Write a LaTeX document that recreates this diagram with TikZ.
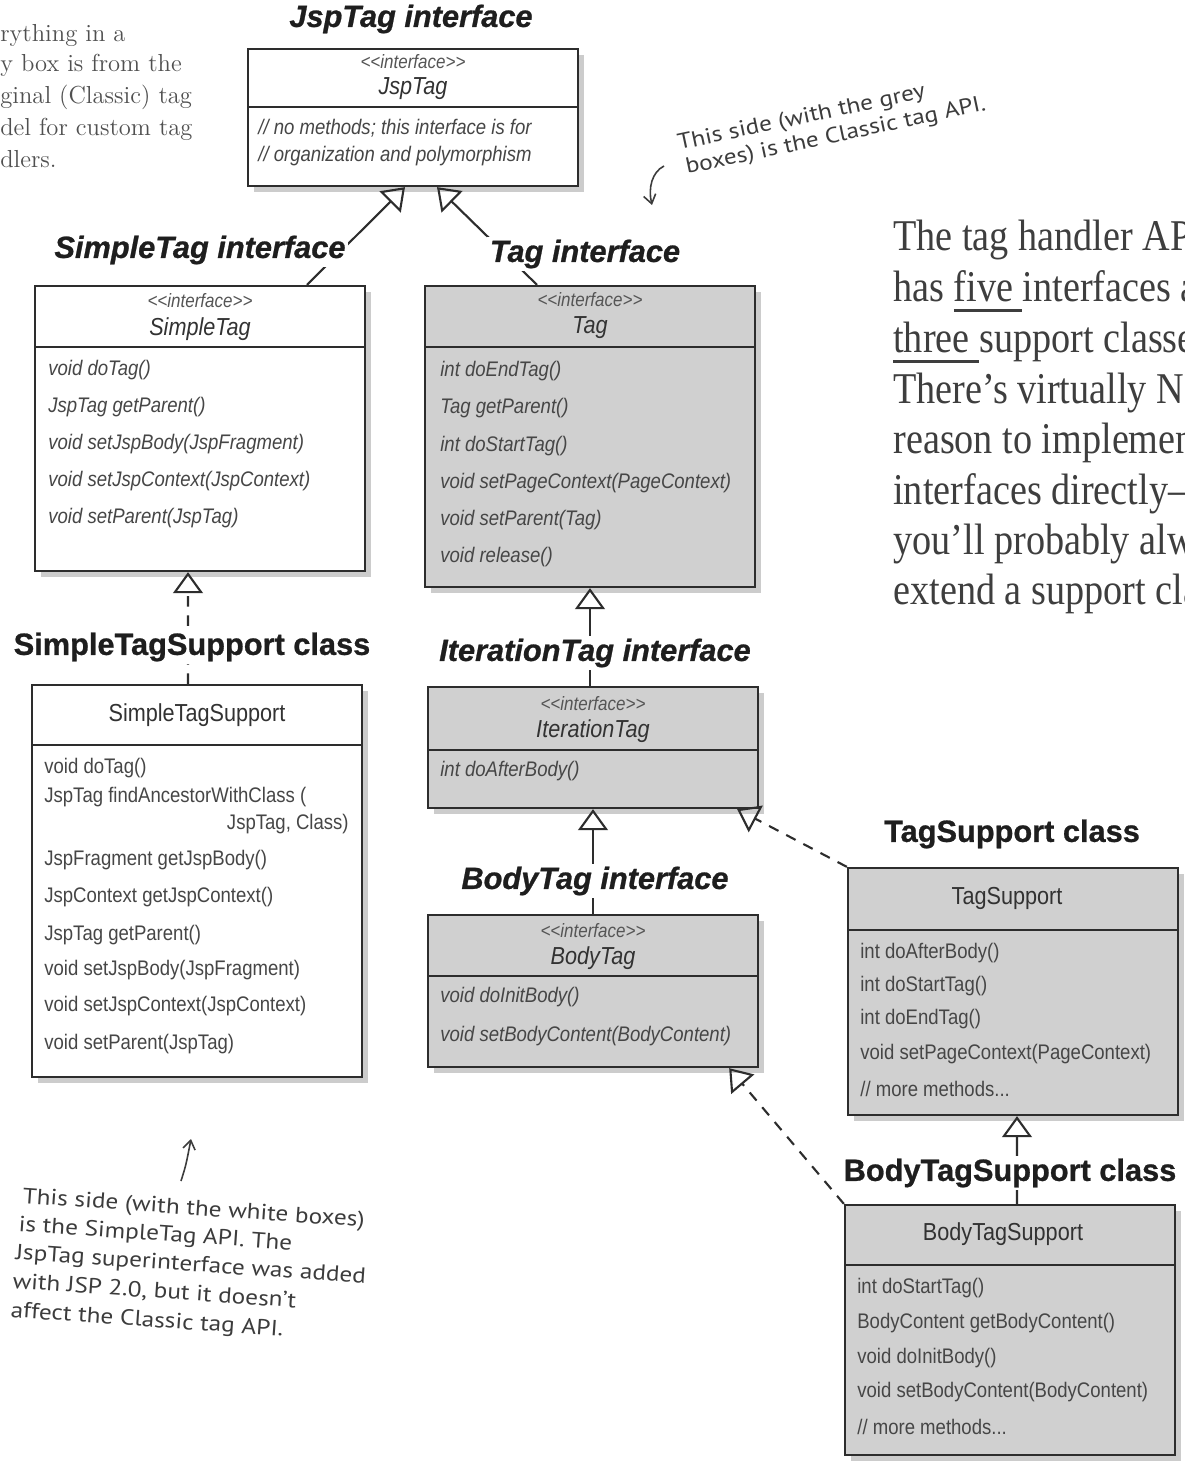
\documentclass[tikz,border=0pt]{standalone}
\usepackage{fontspec}
\newfontfamily\boxfont[FakeStretch=0.88]{Liberation Sans}
\newfontfamily\titlefont[BoldFeatures={FakeBold=0.8}, BoldItalicFeatures={FakeBold=0.8}]{Liberation Sans}
\newfontfamily\handfont[FakeStretch=1.15]{PT Sans}
\newfontfamily\notefont[FakeStretch=0.87]{Liberation Serif}
\usetikzlibrary{arrows.meta,shadows,fit}
\definecolor{boxgrey}{RGB}{208,208,208}
\definecolor{boxline}{RGB}{45,45,45}
\definecolor{boxtext}{RGB}{50,50,50}
\definecolor{methtext}{RGB}{70,70,70}
\definecolor{stereotext}{RGB}{85,85,85}
\definecolor{titletext}{RGB}{30,30,30}
\definecolor{notetext}{RGB}{80,80,80}
\definecolor{bigtext}{RGB}{62,62,62}
\definecolor{handtext}{RGB}{60,60,60}
\newcommand\umlbox[7]{%
  \node[#7, fit={(#2,#3) (#4,#5)}] (#1) {};
  \draw[divider] (#2,#6) -- (#4,#6);}
\newcommand\mline[5]{\node[#5] (#1) at (#2,#3) {#4};}
\newcommand\stereo{<\kern0pt<interface>\kern0pt>}
\newcommand\thickul[1]{\setbox0\hbox{#1}\rlap{\rule[-6pt]{\dimexpr\wd0+5pt\relax}{1.6pt}}\box0}
\tikzset{
  umlbase/.style={draw=boxline, line width=1.3pt, inner sep=0pt,
    drop shadow={shadow xshift=3.5pt, shadow yshift=-3.5pt, opacity=0.4}},
  greybox/.style={umlbase, fill=boxgrey},
  whitebox/.style={umlbase, fill=white},
  divider/.style={draw=boxline, line width=1.3pt},
  stereotype/.style={font=\boxfont\itshape\fontsize{11}{13}\selectfont, text=stereotext, inner sep=0pt},
  iname/.style={font=\boxfont\itshape\fontsize{14}{16}\selectfont, text=boxtext, inner sep=0pt},
  cname/.style={font=\boxfont\fontsize{14}{16}\selectfont, text=boxtext, inner sep=0pt},
  imeth/.style={font=\boxfont\itshape\fontsize{12}{14}\selectfont, text=methtext, inner sep=0pt, anchor=west},
  cmeth/.style={font=\boxfont\fontsize{12}{14}\selectfont, text=methtext, inner sep=0pt, anchor=west},
  ititle/.style={font=\titlefont\bfseries\itshape\fontsize{17.5}{20}\selectfont, text=titletext, fill=white, inner sep=1.5pt},
  ctitle/.style={font=\titlefont\bfseries\fontsize{17.5}{20}\selectfont, text=titletext, fill=white, inner sep=1.5pt},
  gen/.style={draw=boxline, line width=1.2pt, -{Triangle[open, length=12pt, width=17pt, line width=1.2pt]}},
  real/.style={gen, dash pattern=on 6pt off 5pt},
  notestyle/.style={font=\fontsize{14}{18}\selectfont, text=notetext, inner sep=0pt, anchor=base west},
  bigline/.style={font=\notefont\fontsize{25}{28}\selectfont, text=bigtext, inner sep=0pt, anchor=base west},
  handline/.style={font=\handfont\fontsize{12.5}{15}\selectfont, text=handtext, inner sep=0pt, anchor=base west},
  handarrow/.style={draw=handtext, line width=0.9pt, -{Straight Barb[length=5pt, width=7pt]}}
}
\begin{document}
\begin{tikzpicture}[x=0.02cm, y=-0.02cm]
\useasboundingbox (0,0) rectangle (1184,1464);
\fill[white] (0,0) rectangle (1184,1464);

% ---------- boxes ----------
\umlbox{jsptag}{248}{49}{578}{186}{107}{whitebox}
\mline{jsptag-s}{413}{62}{\stereo}{stereotype}
\mline{jsptag-n}{413}{89}{JspTag}{iname}
\mline{jsptag-m1}{258}{128}{// no methods; this interface is for}{imeth}
\mline{jsptag-m2}{258}{156}{// organization and polymorphism}{imeth}

\umlbox{simpletag}{35}{286}{365}{571}{347}{whitebox}
\mline{simpletag-s}{200}{301}{\stereo}{stereotype}
\mline{simpletag-n}{200}{329}{SimpleTag}{iname}
\mline{simpletag-m1}{48}{370}{void doTag()}{imeth}
\mline{simpletag-m2}{48}{407}{JspTag getParent()}{imeth}
\mline{simpletag-m3}{48}{444}{void setJspBody(JspFragment)}{imeth}
\mline{simpletag-m4}{48}{481}{void setJspContext(JspContext)}{imeth}
\mline{simpletag-m5}{48}{518}{void setParent(JspTag)}{imeth}

\umlbox{tag}{425}{286}{755}{587}{347}{greybox}
\mline{tag-s}{590}{300}{\stereo}{stereotype}
\mline{tag-n}{590}{328}{Tag}{iname}
\mline{tag-m1}{440}{371}{int doEndTag()}{imeth}
\mline{tag-m2}{440}{408}{Tag getParent()}{imeth}
\mline{tag-m3}{440}{446}{int doStartTag()}{imeth}
\mline{tag-m4}{440}{483}{void setPageContext(PageContext)}{imeth}
\mline{tag-m5}{440}{520}{void setParent(Tag)}{imeth}
\mline{tag-m6}{440}{557}{void release()}{imeth}

\umlbox{itertag}{428}{687}{758}{808}{750}{greybox}
\mline{itertag-s}{593}{704}{\stereo}{stereotype}
\mline{itertag-n}{593}{731}{IterationTag}{iname}
\mline{itertag-m1}{440}{771}{int doAfterBody()}{imeth}

\umlbox{bodytag}{428}{915}{758}{1067}{976}{greybox}
\mline{bodytag-s}{593}{931}{\stereo}{stereotype}
\mline{bodytag-n}{593}{958}{BodyTag}{iname}
\mline{bodytag-m1}{440}{997}{void doInitBody()}{imeth}
\mline{bodytag-m2}{440}{1036}{void setBodyContent(BodyContent)}{imeth}

\umlbox{sts}{32}{685}{362}{1077}{745}{whitebox}
\mline{sts-n}{197}{715}{SimpleTagSupport}{cname}
\mline{sts-m1}{44}{768}{void doTag()}{cmeth}
\mline{sts-m2}{44}{797}{JspTag findAncestorWithClass (}{cmeth}
\mline{sts-m3}{349}{824}{JspTag, Class)}{cmeth, anchor=east}
\mline{sts-m4}{44}{860}{JspFragment getJspBody()}{cmeth}
\mline{sts-m5}{44}{897}{JspContext getJspContext()}{cmeth}
\mline{sts-m6}{44}{935}{JspTag getParent()}{cmeth}
\mline{sts-m7}{44}{970}{void setJspBody(JspFragment)}{cmeth}
\mline{sts-m8}{44}{1006}{void setJspContext(JspContext)}{cmeth}
\mline{sts-m9}{44}{1044}{void setParent(JspTag)}{cmeth}

\umlbox{ts}{848}{868}{1178}{1115}{930}{greybox}
\mline{ts-n}{1007}{898}{TagSupport}{cname}
\mline{ts-m1}{860}{953}{int doAfterBody()}{cmeth}
\mline{ts-m2}{860}{986}{int doStartTag()}{cmeth}
\mline{ts-m3}{860}{1019}{int doEndTag()}{cmeth}
\mline{ts-m4}{860}{1054}{void setPageContext(PageContext)}{cmeth}
\mline{ts-m5}{860}{1089}{// more methods...}{cmeth}

\umlbox{bts}{845}{1205}{1175}{1455}{1265}{greybox}
\mline{bts-n}{1003}{1234}{BodyTagSupport}{cname}
\mline{bts-m1}{857}{1288}{int doStartTag()}{cmeth}
\mline{bts-m2}{857}{1323}{BodyContent getBodyContent()}{cmeth}
\mline{bts-m3}{857}{1358}{void doInitBody()}{cmeth}
\mline{bts-m4}{857}{1392}{void setBodyContent(BodyContent)}{cmeth}
\mline{bts-m5}{857}{1427}{// more methods...}{cmeth}

% ---------- connectors ----------
\draw[gen] ([xshift=2.14cm]simpletag.north) -- ([xshift=-0.16cm]jsptag.south);
\draw[gen] ([xshift=-1.06cm]tag.north) -- ([xshift=0.48cm]jsptag.south);
\draw[gen] (itertag.north -| tag.south) -- (tag.south);
\draw[gen] (bodytag.north) -- (itertag.south);
\draw[real] ([xshift=-0.18cm]sts.north) -- ([xshift=-0.24cm]simpletag.south);
\draw[real] (ts.north west) -- ([xshift=-0.44cm]itertag.south east);
\draw[real] (bts.north west) -- ([xshift=-0.6cm]bodytag.south east);
\draw[gen] ([xshift=0.14cm]bts.north) -- ([xshift=0.08cm]ts.south);

% ---------- titles ----------
\node[ititle] (t-jsptag) at (411,19) {JspTag interface};
\node[ititle] (t-simpletag) at (200,250) {SimpleTag interface};
\node[ititle] (t-tag) at (585,254) {Tag interface};
\node[ctitle] (t-sts) at (192,647) {SimpleTagSupport class};
\node[ititle] (t-itertag) at (595,653) {IterationTag interface};
\node[ititle] (t-bodytag) at (595,881) {BodyTag interface};
\node[ctitle] (t-ts) at (1012,834) {TagSupport class};
\node[ctitle] (t-bts) at (1010,1173) {BodyTagSupport class};

% ---------- notes ----------
\node[notestyle] (n1) at (0,41) {rything in a};
\node[notestyle] (n2) at (0,71) {y box is from the};
\node[notestyle] (n3) at (0,103) {ginal (Classic) tag};
\node[notestyle] (n4) at (0,135) {del for custom tag};
\node[notestyle] (n5) at (0,167) {dlers.};

\begin{scope}
\clip (0,0) rectangle (1184,1464);
\node[bigline] (p1) at (893,250) {The tag handler API};
\node[bigline] (p2) at (893,301) {has \thickul{five}\ interfaces and};
\node[bigline] (p3) at (893,352) {\thickul{three}\ support classes.};
\node[bigline] (p4) at (893,403) {There’s virtually NO};
\node[bigline] (p5) at (893,453) {reason to implement the};
\node[bigline] (p6) at (893,504) {interfaces directly—};
\node[bigline] (p7) at (893,554) {you’ll probably always};
\node[bigline] (p8) at (893,604) {extend a support class.};
\end{scope}

\node[handline, rotate=12] (h1a) at (679,150) {This side (with the grey};
\node[handline, rotate=12] (h1b) at (687,174) {boxes) is the Classic tag API.};
\coordinate (ta1) at (664,166);
\coordinate (ta2) at (652,205);
\draw[handarrow] (ta1) .. controls (652,172) and (648,188) .. (ta2);

\node[handline, rotate=-4] (h2a) at (22,1203) {This side (with the white boxes)};
\node[handline, rotate=-4] (h2b) at (18,1231) {is the SimpleTag API. The};
\node[handline, rotate=-4] (h2c) at (15,1259) {JspTag superinterface was added};
\node[handline, rotate=-4] (h2d) at (12,1288) {with JSP 2.0, but it doesn’t};
\node[handline, rotate=-4] (h2e) at (10,1317) {affect the Classic tag API.};
\coordinate (ha1) at (181,1181);
\coordinate (ha2) at (191,1139);
\draw[handarrow] (ha1) .. controls (186,1165) .. (ha2);
\end{tikzpicture}
\end{document}
